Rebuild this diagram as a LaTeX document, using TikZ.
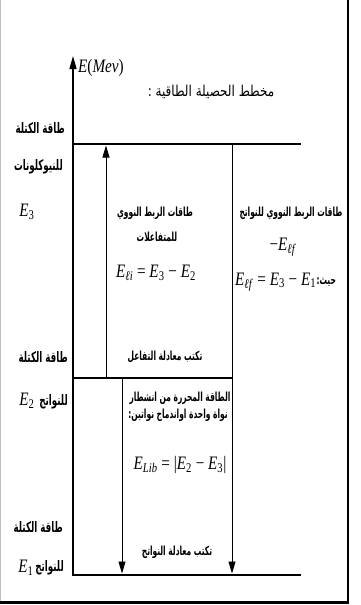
\documentclass[tikz,border=0pt]{standalone}
\usepackage{fontspec}
\setmainfont{Liberation Serif}
\newfontfamily\arabe[Script=Arabic,FakeStretch=0.6]{DejaVu Sans}
\newfontfamily\arabetitre[Script=Arabic,FakeStretch=0.8]{DejaVu Sans}
\newfontfamily\serifetroit[FakeStretch=0.8]{Liberation Serif}
\TeXXeTstate=1
\usepackage{tikz}
\usetikzlibrary{arrows.meta, positioning}

% energie avec indice
\newcommand{\Ei}[1]{\textit{E}\textsubscript{#1}}

\begin{document}
\begin{tikzpicture}[
                x=1pt, y=-1pt,
                niveau/.style={line width=2.2pt},
                fleche/.style={line width=0.8pt, -{Triangle[length=12pt,width=7pt]}},
                axe/.style={line width=1.3pt, -{Triangle[length=13pt,width=7pt]}},
                etiq/.style={font=\arabe\bfseries\fontsize{12.5}{14}\selectfont, inner sep=0pt},
                etiqg/.style={etiq, font=\arabe\bfseries\fontsize{14.5}{16}\selectfont},
                titre/.style={font=\arabetitre\fontsize{15}{17}\selectfont, inner sep=0pt},
                formule/.style={font=\serifetroit\fontsize{19}{21}\selectfont, inner sep=0pt}
            ]
            \useasboundingbox (0,0) rectangle (361,605);

            % Cadre
            \draw[gray!50, line width=0.6pt] (0.4,0) -- (0.4,601);
            \draw[line width=2.8pt] (0,602.5) -- (348,602.5) -- (348,0);

            % Axe des energies
            \coordinate (O) at (73,576);
            \coordinate (haut) at (73,56);
            \draw[axe] (O) -- (haut);
            \node[formule, anchor=west] (unite) at (78,68) {\textit{E}(\textit{Mev})};
            \node[titre] (titre) at (211,92) {\beginR مخطط الحصيلة الطاقية :\endR};

            % Niveaux d'energie
            \coordinate (E3g) at (73,144);
            \coordinate (E3d) at (301,144);
            \coordinate (E2g) at (73,378);
            \coordinate (E2d) at (232,378);
            \coordinate (E1g) at (73,575);
            \coordinate (E1d) at (301,575);
            \draw[niveau] (E3g) -- (E3d);
            \draw[line width=1.4pt] (E2g) -- (E2d);
            \draw[niveau] (E1g) -- (E1d);

            % Fleches
            \coordinate (montB) at (106,378);
            \coordinate (montH) at (106,145.5);
            \coordinate (descH) at (232,145);
            \coordinate (descB) at (232,573.5);
            \coordinate (libH) at (122,378.5);
            \coordinate (libB) at (122,573.5);
            \draw[fleche] (montB) -- (montH);
            \draw[fleche] (descH) -- (descB);
            \draw[fleche] (libH) -- (libB);

            % Colonne de gauche
            \node[etiqg, anchor=east] (masse3) at (65,128) {\beginR طاقة الكتلة\endR};
            \node[etiqg, anchor=east] (nucl) at (63,167) {\beginR للنيوكلونات\endR};
            \node[formule] (E3) at (27,212) {\Ei{3}};
            \node[etiqg, anchor=east] (masse2) at (68,357) {\beginR طاقة الكتلة\endR};
            \node[etiqg, anchor=east] (prod2) at (68,402) {\beginR للنواتج\endR};
            \node[formule] (E2) at (27,401) {\Ei{2}};
            \node[etiqg, anchor=east] (masse1) at (63,527) {\beginR طاقة الكتلة\endR};
            \node[etiqg, anchor=east] (prod1) at (64,568) {\beginR للنواتج\endR};
            \node[formule] (E1) at (26,568) {\Ei{1}};

            % Energie de liaison des reactifs
            \node[etiq] (liaisonR) at (155,213) {\beginR طاقات الربط النووي\endR};
            \node[etiq] (reactifs) at (157,237) {\beginR للمتفاعلات\endR};
            \node[formule] (Eli) at (156,273) {\Ei{\textit{ℓi}} = \Ei{3} − \Ei{2}};
            \node[etiq] (eqR) at (165,357) {\beginR تكتب معادلة التفاعل\endR};

            % Energie de liaison des produits
            \node[etiq] (liaisonP) at (291,213) {\beginR طاقات الربط النووي للنواتج\endR};
            \node[formule] (mElf) at (283,247) {−\Ei{\textit{ℓf}}};
            \node[formule, anchor=west] (Elf) at (235,282) {\Ei{\textit{ℓf}} = \Ei{3} − \Ei{1}};
            \node[etiq, anchor=west] (ou) at (Elf.east) {\beginR حيث:\endR};

            % Energie liberee
            \node[etiq] (lib1) at (180,398) {\beginR الطاقة المحررة من انشطار\endR};
            \node[etiq] (lib2) at (178,415) {\beginR نواة واحدة اواندماج نواتين:\endR};
            \node[formule] (Elib) at (180,465) {\Ei{\textit{Lib}} = |\Ei{2} − \Ei{3}|};
            \node[etiq] (eqP) at (177,552) {\beginR تكتب معادلة النواتج\endR};
        \end{tikzpicture}
\end{document}
